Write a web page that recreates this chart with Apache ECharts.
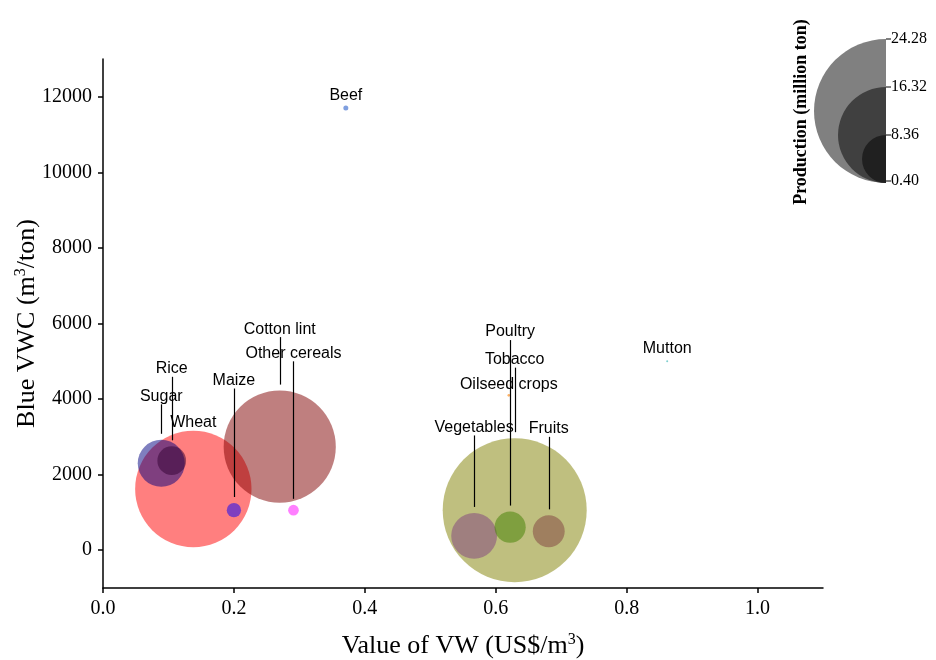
<!DOCTYPE html>
<html>
<head>
<meta charset="utf-8">
<script src="https://cdn.jsdelivr.net/npm/echarts@6/dist/echarts.min.js"></script>
<style>
html,body{margin:0;padding:0;background:#fff;}
#chart{width:936px;height:660px;}
</style>
</head>
<body>
<div id="chart"></div>
<script>
// ---- data ----
const categories = ['Tobacco','Wheat','Cotton lint','Sugar','Vegetables','Fruits','Poultry','Rice','Maize','Other cereals','Beef','Oilseed crops','Mutton'];
const vwValue    = [0.629, 0.138, 0.270, 0.089, 0.567, 0.681, 0.622, 0.105, 0.200, 0.291, 0.371, 0.620, 0.862];
const blueVWC    = [1060, 1620, 2740, 2300, 380, 500, 610, 2370, 1060, 1060, 11700, 4100, 5000];
const production = [24.28, 19.7, 19.0, 8.2, 8.0, 5.7, 5.57, 5.16, 2.77, 2.17, 1.23, 0.85, 0.72];
const xTicks = [0, 0.2, 0.4, 0.6, 0.8, 1.0];
const yTicks = [0, 2000, 4000, 6000, 8000, 10000, 12000];
const legendTicks = [0.40, 8.36, 16.32, 24.28];

// ---- styles / label layout ----
const colors = ['rgba(128,128,0,0.5)','rgba(255,0,0,0.5)','rgba(128,0,0,0.5)','rgba(0,0,128,0.5)',
  'rgba(128,64,128,0.5)','rgba(128,64,64,0.5)','rgba(64,128,0,0.5)','rgba(50,0,50,0.5)',
  'rgba(0,0,255,0.5)','rgba(255,0,255,0.5)','rgba(0,64,192,0.5)','rgba(255,128,0,0.6)','rgba(0,160,160,0.5)'];
const labelGap = [70.5, 0.5, 53.5, 35.5, 77.5, 78.5, 171.5, 69.5, 114.5, 143.5, 2.5, 1.5, 3.5];
const showLine = [true, false, true, true, true, true, true, true, true, true, false, false, false];
const legendShades = ['#202020', '#404040', '#808080'];

const MAXD = 144;
const pMin = legendTicks[0], pMax = legendTicks[legendTicks.length - 1];
function sizeOf(v) { return Math.max(2, (v - pMin) / (pMax - pMin) * MAXD); }

const SERIF = '"Liberation Serif","Times New Roman",serif';
const SANS = '"Liberation Sans",Arial,sans-serif';

const data = categories.map((c, i) => ({
  name: c,
  value: [vwValue[i], blueVWC[i], production[i]],
  itemStyle: { color: colors[i], opacity: 1 },
  label: { distance: labelGap[i] }
}));
const lineData = categories.map((c, i) => [vwValue[i], blueVWC[i], production[i]]);

// legend graphic
const LX = 886, LB = 183;
const graphics = [];
for (let k = legendTicks.length - 1; k >= 1; k--) {
  const r = sizeOf(legendTicks[k]) / 2;
  graphics.push({
    type: 'sector', silent: true,
    shape: { cx: LX, cy: LB - r, r: r, r0: 0, startAngle: Math.PI / 2, endAngle: Math.PI * 3 / 2, clockwise: true },
    style: { fill: legendShades[k - 1] }
  });
}
legendTicks.forEach(v => {
  const y = LB - sizeOf(v);
  graphics.push({ type: 'line', silent: true, shape: { x1: LX, y1: y, x2: LX + 5, y2: y }, style: { stroke: '#000', lineWidth: 1 } });
  graphics.push({ type: 'text', silent: true, x: LX + 5, y: y,
    style: { text: v.toFixed(2), font: '16px ' + SERIF, fill: '#000', textAlign: 'left', textVerticalAlign: 'middle' } });
});
graphics.push({ type: 'text', silent: true, x: 801, y: 112, rotation: Math.PI / 2,
  style: { text: 'Production (million ton)', font: 'bold 18px ' + SERIF, fill: '#000', textAlign: 'center', textVerticalAlign: 'middle' } });

const chart = echarts.init(document.getElementById('chart'), null, { renderer: 'canvas' });
const axisCommon = {
  axisLine: { show: true, onZero: false, lineStyle: { color: '#000', width: 1.5 } },
  axisTick: { show: true, inside: false, length: 5, lineStyle: { color: '#000', width: 1.5 } },
  splitLine: { show: false },
};
const richName = {
  n: { fontFamily: SERIF, fontSize: 26, color: '#000', lineHeight: 28 },
  s: { fontFamily: SERIF, fontSize: 16, color: '#000', verticalAlign: 'top', lineHeight: 28 }
};
chart.setOption({
  animation: false,
  backgroundColor: '#fff',
  grid: { left: 103, right: 113, top: 59, bottom: 72, containLabel: false, outerBoundsMode: 'none' },
  xAxis: Object.assign({}, axisCommon, {
    type: 'value', min: 0, max: 1.1,
    axisTick: Object.assign({}, axisCommon.axisTick, { customValues: xTicks }),
    axisLabel: { customValues: xTicks, margin: 11, color: '#000', fontFamily: SERIF, fontSize: 20,
      formatter: v => v.toFixed(1) },
    name: '{n|Value of VW (US$/m}{s|3}{n|)}',
    nameLocation: 'middle', nameGap: 44, nameMoveOverlap: false,
    nameTextStyle: { color: '#000', fontFamily: SERIF, fontSize: 26, rich: richName }
  }),
  yAxis: Object.assign({}, axisCommon, {
    type: 'value', min: -1000, max: 13000,
    axisTick: Object.assign({}, axisCommon.axisTick, { customValues: yTicks }),
    axisLabel: { customValues: yTicks, margin: 11, color: '#000', fontFamily: SERIF, fontSize: 20,
      formatter: v => String(Math.round(v)) },
    name: '{n|Blue VWC (m}{s|3}{n|/ton)}',
    nameLocation: 'middle', nameGap: 62, nameRotate: 90, nameMoveOverlap: false,
    nameTextStyle: { color: '#000', fontFamily: SERIF, fontSize: 26, rich: richName }
  }),
  graphic: graphics,
  series: [{
    type: 'scatter',
    symbol: 'circle',
    symbolSize: val => sizeOf(val[2]),
    data: data,
    itemStyle: { opacity: 1 },
    label: { show: true, position: 'top', formatter: '{b}', color: '#000', fontFamily: SANS, fontSize: 16 },
    labelLine: { show: false },
    emphasis: { disabled: true },
    z: 2
  }, {
    type: 'custom',
    data: lineData,
    encode: { x: 0, y: 1 },
    z: 3,
    silent: true,
    renderItem: function (params, api) {
      const i = params.dataIndex;
      if (!showLine[i]) return null;
      const p = api.coord([api.value(0), api.value(1)]);
      const top = p[1] - sizeOf(api.value(2)) / 2;
      return {
        type: 'line',
        shape: { x1: Math.round(p[0]) + 0.5, y1: top - labelGap[i], x2: Math.round(p[0]) + 0.5, y2: top - 6 },
        style: { stroke: '#000', lineWidth: 1.2 }
      };
    }
  }]
});
</script>
</body>
</html>
